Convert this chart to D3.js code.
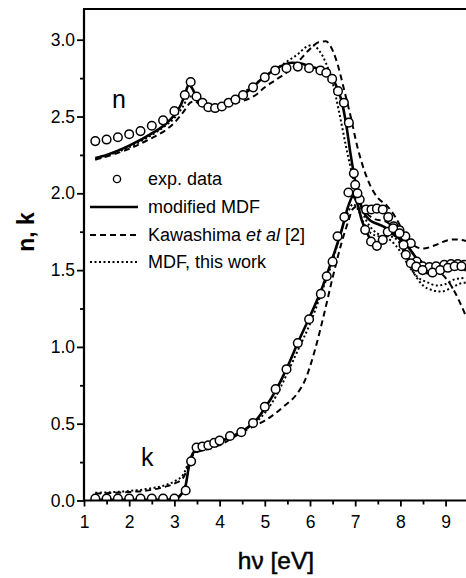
<!DOCTYPE html>
<html><head><meta charset="utf-8">
<script src="https://cdn.jsdelivr.net/npm/d3@7"></script>
<style>body{margin:0;background:#fff}svg{display:block}</style>
</head><body>
<svg id="c" width="466" height="578"></svg>
<script>
// ---- data ----
const xTicks = [1,2,3,4,5,6,7,8,9];
const yTicks = [0,0.5,1.0,1.5,2.0,2.5,3.0];
const legendLabels = ["exp. data","modified MDF","Kawashima ","MDF, this work"];

const nExpX = [1.25,1.5,1.75,2.0,2.25,2.5,2.75,3.0,3.23,3.36,3.49,3.62,3.75,3.9,4.05,4.2,4.35,4.52,4.74,5.0,5.23,5.48,5.73,5.98,6.23,6.36,6.49,6.62,6.75,6.86,6.97,7.0,7.1,7.24,7.36,7.48,7.61,7.73,7.85,7.98,8.11,8.23,8.36,8.49,8.64,8.79,8.97,9.12,9.27,9.41];
const nExpY = [2.34,2.35,2.365,2.385,2.405,2.44,2.475,2.535,2.64,2.725,2.63,2.59,2.56,2.555,2.565,2.59,2.61,2.64,2.69,2.755,2.80,2.815,2.825,2.815,2.80,2.785,2.745,2.665,2.59,2.46,2.13,2.055,1.96,1.895,1.895,1.9,1.895,1.845,1.785,1.76,1.72,1.675,1.555,1.525,1.52,1.525,1.535,1.54,1.54,1.535];
const kExpX = [1.25,1.5,1.75,2.0,2.25,2.5,2.75,3.0,3.25,3.37,3.49,3.62,3.75,3.88,4.0,4.23,4.48,4.74,5.0,5.24,5.48,5.73,5.98,6.24,6.37,6.5,6.61,6.76,6.85,7.05,7.22,7.35,7.48,7.61,7.72,7.84,7.98,8.07,8.12,8.23,8.35,8.49,8.71,8.88,9.05,9.2,9.35];
const kExpY = [0.012,0.012,0.012,0.012,0.012,0.012,0.012,0.012,0.065,0.255,0.345,0.352,0.36,0.375,0.39,0.42,0.445,0.505,0.61,0.725,0.855,1.025,1.18,1.345,1.46,1.555,1.72,1.845,2.005,2.0,1.762,1.686,1.658,1.697,1.75,1.773,1.74,1.664,1.6,1.545,1.523,1.50,1.484,1.50,1.515,1.525,1.525];

const nSolidX = [1.25,1.5,2.0,2.5,2.8,3.0,3.15,3.25,3.32,3.38,3.5,3.65,3.8,4.0,4.3,4.6,5.0,5.3,5.6,5.8,6.0,6.2,6.4,6.55,6.7,6.8,6.9,7.0,7.1,7.2,7.35,7.5,7.65,7.8,8.0,8.2,8.4,8.6,8.8,9.0,9.2,9.45];
const nSolidY = [2.23,2.25,2.31,2.39,2.45,2.51,2.58,2.66,2.71,2.69,2.62,2.58,2.565,2.57,2.61,2.66,2.76,2.82,2.85,2.845,2.825,2.81,2.78,2.72,2.6,2.45,2.25,2.08,1.95,1.87,1.82,1.8,1.78,1.74,1.70,1.64,1.56,1.52,1.51,1.52,1.52,1.51];
const kSolidX = [1.25,2.0,2.8,3.0,3.15,3.25,3.32,3.38,3.48,3.6,3.8,4.0,4.3,4.6,4.8,5.0,5.25,5.5,5.75,6.0,6.25,6.5,6.7,6.85,6.95,7.05,7.15,7.3,7.45,7.6,7.75,7.9,8.05,8.2,8.35,8.6,8.9,9.2,9.45];
const kSolidY = [0.005,0.005,0.005,0.01,0.04,0.1,0.22,0.29,0.33,0.345,0.36,0.385,0.42,0.47,0.52,0.6,0.72,0.87,1.04,1.2,1.37,1.58,1.76,1.92,1.98,1.93,1.82,1.72,1.67,1.69,1.74,1.74,1.66,1.56,1.51,1.48,1.49,1.51,1.5];

const nDashX = [1.25,1.5,2.0,2.5,2.8,3.0,3.2,3.35,3.45,3.6,3.8,4.0,4.3,4.6,4.8,5.0,5.25,5.5,5.75,6.0,6.2,6.35,6.45,6.6,6.75,6.9,7.05,7.2,7.35,7.5,7.7,7.9,8.1,8.3,8.5,8.75,9.0,9.2,9.45];
const nDashY = [2.22,2.24,2.29,2.36,2.41,2.46,2.53,2.59,2.6,2.57,2.56,2.565,2.59,2.61,2.64,2.69,2.74,2.79,2.86,2.94,2.985,2.99,2.96,2.85,2.68,2.5,2.3,2.15,2.04,1.97,1.92,1.84,1.73,1.66,1.64,1.66,1.69,1.70,1.69];
const kDashX = [1.25,1.5,2.0,2.5,2.8,3.0,3.2,3.3,3.4,3.5,3.7,4.0,4.3,4.6,4.8,5.0,5.2,5.45,5.7,5.9,6.1,6.3,6.5,6.7,6.85,6.95,7.1,7.25,7.45,7.65,7.9,8.1,8.3,8.5,8.7,8.9,9.1,9.3,9.45];
const kDashY = [0.045,0.048,0.055,0.07,0.09,0.11,0.15,0.22,0.29,0.315,0.33,0.36,0.41,0.46,0.49,0.52,0.56,0.62,0.69,0.79,0.97,1.2,1.45,1.68,1.82,1.9,1.92,1.87,1.83,1.82,1.76,1.68,1.6,1.55,1.52,1.48,1.41,1.3,1.2];

const nDotX = [1.25,1.5,2.0,2.5,2.8,3.0,3.2,3.32,3.4,3.5,3.7,4.0,4.3,4.6,5.0,5.3,5.5,5.75,5.9,6.05,6.2,6.35,6.5,6.65,6.8,6.95,7.1,7.25,7.4,7.6,7.8,8.0,8.2,8.4,8.6,8.8,9.0,9.2,9.45];
const nDotY = [2.22,2.245,2.30,2.38,2.44,2.49,2.57,2.63,2.63,2.6,2.58,2.58,2.62,2.67,2.76,2.82,2.86,2.91,2.95,2.965,2.93,2.85,2.72,2.52,2.3,2.1,1.93,1.82,1.76,1.72,1.69,1.62,1.52,1.45,1.42,1.40,1.41,1.44,1.45];
const kDotX = [1.25,1.5,2.0,2.5,2.8,3.0,3.2,3.3,3.4,3.5,3.7,4.0,4.3,4.6,4.8,5.0,5.25,5.5,5.75,6.0,6.25,6.5,6.7,6.85,6.95,7.05,7.2,7.35,7.55,7.75,7.95,8.1,8.3,8.5,8.7,8.9,9.1,9.3,9.45];
const kDotY = [0.05,0.053,0.062,0.08,0.1,0.125,0.17,0.24,0.3,0.32,0.34,0.38,0.42,0.47,0.51,0.57,0.68,0.83,0.99,1.15,1.35,1.56,1.76,1.88,1.93,1.9,1.8,1.74,1.72,1.72,1.69,1.6,1.48,1.4,1.37,1.36,1.38,1.41,1.42];

// ---- drawing ----
const FONT = "'Liberation Sans', Arial, Helvetica, sans-serif";
const svg = d3.select("#c");
const L = 84, T = 9, B = 500.5;
const x = d3.scaleLinear().domain([1,10]).range([L, L + 9*45.2]);
const y = d3.scaleLinear().domain([0,3.2]).range([B, T]);

svg.append("defs").append("clipPath").attr("id","clip")
  .append("rect").attr("x",L).attr("y",T).attr("width",500).attr("height",B-T);

const plot = svg.append("g").attr("clip-path","url(#clip)");
const line = d3.line().x(d=>x(d[0])).y(d=>y(d[1])).curve(d3.curveMonotoneX);
const zip = (a,b)=>a.map((v,i)=>[v,b[i]]);

const styles = {
  solid:{w:2.6, dash:null},
  dash:{w:2.0, dash:"6,4"},
  dot:{w:2.0, dash:"2,2.5"}
};
[[nDashX,nDashY,"dash"],[kDashX,kDashY,"dash"],[nDotX,nDotY,"dot"],[kDotX,kDotY,"dot"],[nSolidX,nSolidY,"solid"],[kSolidX,kSolidY,"solid"]]
.forEach(([xs,ys,s])=>{
  plot.append("path").datum(zip(xs,ys)).attr("d",line)
    .attr("fill","none").attr("stroke","#000").attr("stroke-width",styles[s].w)
    .attr("stroke-dasharray",styles[s].dash);
});
[[nExpX,nExpY],[kExpX,kExpY]].forEach(([xs,ys])=>{
  plot.selectAll(null).data(zip(xs,ys)).enter().append("circle")
    .attr("cx",d=>x(d[0])).attr("cy",d=>y(d[1])).attr("r",4.3)
    .attr("fill","#fff").attr("stroke","#000").attr("stroke-width",1.5);
});

// axes
const xa = svg.append("g").attr("transform",`translate(0,${B})`)
  .call(d3.axisBottom(x).tickValues(xTicks).tickSize(6).tickPadding(9).tickFormat(d3.format("d")));
const xm = svg.append("g").attr("transform",`translate(0,${B})`)
  .call(d3.axisBottom(x).tickValues(d3.range(1.5,10,1)).tickSize(4).tickFormat(""));
const ya = svg.append("g").attr("transform",`translate(${L},0)`)
  .call(d3.axisLeft(y).tickValues(yTicks).tickSize(7).tickPadding(2).tickFormat(d3.format(".1f")));
const ym = svg.append("g").attr("transform",`translate(${L},0)`)
  .call(d3.axisLeft(y).tickValues(d3.range(0.25,3.2,0.5)).tickSize(4).tickFormat(""));
[xa,xm,ya,ym].forEach(g=>{
  g.select(".domain").attr("stroke-width",2.2).attr("stroke","#000");
  g.selectAll(".tick line").attr("stroke-width",1.8).attr("stroke","#000");
  g.selectAll("text").attr("font-family",FONT).attr("font-size",17.5).attr("fill","#000");
});
xa.select(".domain").attr("d",`M${L},0H470`);
xm.select(".domain").remove();
ym.select(".domain").remove();
ya.select(".domain").attr("d",`M0,${B}V${T}`);
svg.append("line").attr("x1",L-1).attr("x2",470).attr("y1",T).attr("y2",T)
  .attr("stroke","#000").attr("stroke-width",2.2);

// titles
svg.append("text").attr("transform","translate(34,232) rotate(-90)")
  .attr("text-anchor","middle").attr("font-family",FONT).attr("font-size",23).attr("font-weight","bold")
  .text("n, k");
svg.append("text").attr("x",276).attr("y",569).attr("text-anchor","middle")
  .attr("font-family",FONT).attr("font-size",24.5).attr("stroke","#000").attr("stroke-width",0.5).text("hν [eV]");
svg.append("text").attr("x",112).attr("y",108).attr("font-family",FONT).attr("font-size",25).text("n");
svg.append("text").attr("x",141).attr("y",466).attr("font-family",FONT).attr("font-size",25).text("k");

// legend
const rows = [179,207,235,262];
const lg = svg.append("g");
lg.append("circle").attr("cx",117).attr("cy",rows[0]).attr("r",3.6)
  .attr("fill","#fff").attr("stroke","#000").attr("stroke-width",1.4);
[["solid",1],["dash",2],["dot",3]].forEach(([s,i])=>{
  lg.append("line").attr("x1",90).attr("x2",138).attr("y1",rows[i]).attr("y2",rows[i])
    .attr("stroke","#000").attr("stroke-width",styles[s].w).attr("stroke-dasharray",styles[s].dash);
});
legendLabels.forEach((t,i)=>{
  const tx = lg.append("text").attr("x",148).attr("y",rows[i]+6)
    .attr("font-family",FONT).attr("font-size",18).text(t);
  if(i===2){
    tx.append("tspan").attr("font-style","italic").text("et al");
    tx.append("tspan").text(" [2]");
  }
});
</script>
</body></html>
